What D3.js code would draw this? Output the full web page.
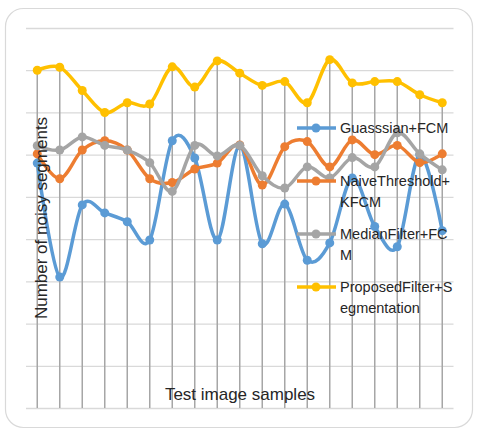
<!DOCTYPE html>
<html>
<head>
<meta charset="utf-8">
<script src="https://cdn.jsdelivr.net/npm/d3@7"></script>
<style>
  body { margin: 0; padding: 0; background: white; }
</style>
</head>
<body>
<div id="myVis"></div>
<script>
const width = 480;
const height = 435;

// test image samples 1..19
const samples = d3.range(1, 20);
const seriesNames = ["Guasssian+FCM", "NaiveThreshold+KFCM", "MedianFilter+FCM", "ProposedFilter+Segmentation"];
// legend labels as Excel wrapped them
const legendLines = [["Guasssian+FCM"], ["NaiveThreshold+", "KFCM"], ["MedianFilter+FC", "M"], ["ProposedFilter+S", "egmentation"]];
const colors = ["#5B9BD5", "#ED7D31", "#A5A5A5", "#FFC000"];

const gaussian = [5.8, 3.1, 4.81, 4.62, 4.41, 3.98, 6.33, 5.92, 3.98, 6.21, 3.89, 4.83, 3.5, 3.91, 5.45, 4.3, 3.82, 6.0, 4.2];
const naive = [6.02, 5.43, 6.11, 6.33, 6.11, 5.43, 5.34, 5.66, 5.8, 6.23, 5.28, 6.19, 6.31, 5.71, 6.35, 6.0, 6.22, 5.81, 6.02];
const median = [6.21, 6.11, 6.42, 6.22, 6.11, 5.81, 5.13, 6.22, 5.97, 6.22, 5.5, 5.21, 5.71, 5.45, 5.93, 5.71, 6.52, 6.02, 5.64];
const proposed = [8.0, 8.07, 7.52, 7.0, 7.23, 7.2, 8.08, 7.6, 8.22, 7.93, 7.64, 7.73, 7.23, 8.25, 7.7, 7.73, 7.73, 7.42, 7.23];
const yTicks = d3.range(0, 10);

const allSeries = [gaussian, naive, median, proposed];

const plot = { left: 26, right: 453.5, top: 28, bottom: 408 };

const svg = d3
  .select("#myVis")
  .append("svg")
  .attr("width", width)
  .attr("height", height)
  .style("display", "block");

// chart area border
svg.append("rect")
  .attr("x", 5.5)
  .attr("y", 8.5)
  .attr("width", 467)
  .attr("height", 419)
  .attr("rx", 18)
  .attr("fill", "white")
  .attr("stroke", "#D9D9D9")
  .attr("stroke-width", 1.2);

const x = d3.scalePoint()
  .domain(samples)
  .range([plot.left, plot.right])
  .padding(0.5);

const y = d3.scaleLinear()
  .domain([0, 9])
  .range([plot.bottom, plot.top]);

// horizontal gridlines, no labels
const yAxis = svg.append("g")
  .attr("transform", "translate(" + plot.left + ",0)")
  .call(d3.axisLeft(y).tickValues(yTicks).tickSize(-(plot.right - plot.left)).tickFormat(""));
yAxis.select(".domain").remove();
yAxis.selectAll("line").attr("stroke", "#D9D9D9").attr("stroke-width", 1.3);

// drop lines from the highest point of each sample down to the axis
const maxes = samples.map((s, i) => d3.max(allSeries, (arr) => arr[i]));
svg.append("g")
  .selectAll("line")
  .data(samples)
  .enter()
  .append("line")
  .attr("x1", (d) => x(d))
  .attr("x2", (d) => x(d))
  .attr("y1", (d, i) => y(maxes[i]))
  .attr("y2", y(0))
  .attr("stroke", "#A6A6A6")
  .attr("stroke-width", 1.5);

const line = d3.line()
  .x((d, i) => x(samples[i]))
  .y((d) => y(d))
  .curve(d3.curveCatmullRom.alpha(0));

allSeries.forEach(function (arr, k) {
  const g = svg.append("g");
  g.append("path")
    .datum(arr)
    .attr("d", line)
    .attr("fill", "none")
    .attr("stroke", colors[k])
    .attr("stroke-width", 3.5)
    .attr("stroke-linejoin", "round");
  g.selectAll("circle")
    .data(arr)
    .enter()
    .append("circle")
    .attr("cx", (d, i) => x(samples[i]))
    .attr("cy", (d) => y(d))
    .attr("r", 4.5)
    .attr("fill", colors[k]);
});

// legend
const legendY = [128, 181, 234, 287];
const legend = svg.append("g")
  .style("font-family", "'Liberation Sans', Arial, sans-serif")
  .style("font-size", "14.5px");

legendLines.forEach(function (lines, k) {
  legend.append("line")
    .attr("x1", 297)
    .attr("x2", 336)
    .attr("y1", legendY[k])
    .attr("y2", legendY[k])
    .attr("stroke", colors[k])
    .attr("stroke-width", 3.5);
  legend.append("circle")
    .attr("cx", 316)
    .attr("cy", legendY[k])
    .attr("r", 4.5)
    .attr("fill", colors[k]);
  const t = legend.append("text")
    .attr("x", 340)
    .attr("y", legendY[k] + 5)
    .attr("fill", "#262626");
  lines.forEach(function (s, j) {
    t.append("tspan")
      .attr("x", 340)
      .attr("dy", j === 0 ? 0 : 20.5)
      .text(s);
  });
});

// axis titles
svg.append("text")
  .attr("transform", "translate(47," + 218 + ") rotate(-90)")
  .attr("text-anchor", "middle")
  .style("font-family", "'Liberation Sans', Arial, sans-serif")
  .style("font-size", "17px")
  .attr("fill", "#262626")
  .text("Number of noisy segments");

svg.append("text")
  .attr("x", 240)
  .attr("y", 400)
  .attr("text-anchor", "middle")
  .style("font-family", "'Liberation Sans', Arial, sans-serif")
  .style("font-size", "17px")
  .attr("fill", "#262626")
  .text("Test image samples");
</script>
</body>
</html>
